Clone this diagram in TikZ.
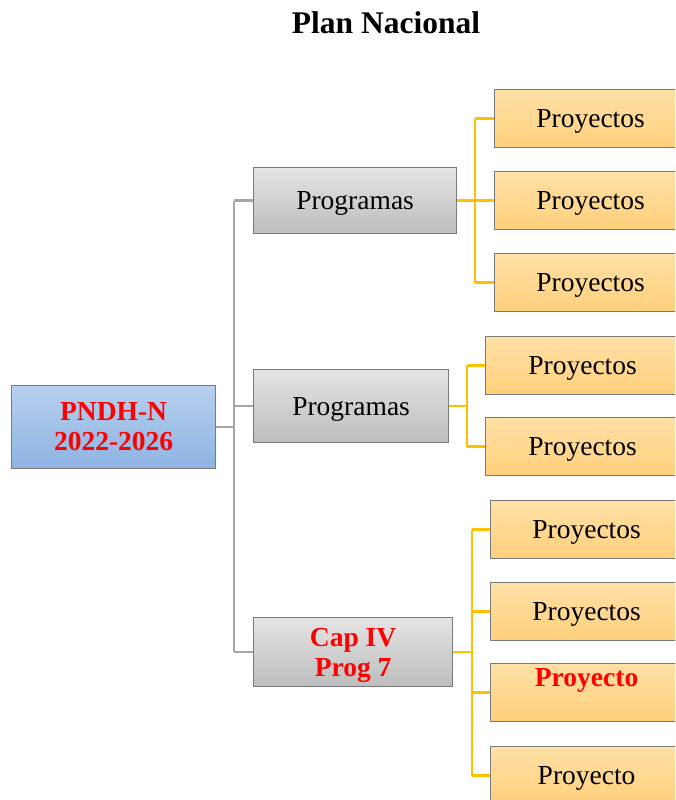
\documentclass[tikz,border=0pt]{standalone}
\usepackage{fontspec}
\setmainfont{Liberation Serif}
\definecolor{bordc}{HTML}{7A7A7A}
\definecolor{gline}{HTML}{A6A6A6}
\definecolor{yline}{HTML}{FFC000}
\definecolor{blueT}{HTML}{B7D0EE}
\definecolor{blueB}{HTML}{8EB3E2}
\definecolor{grayT}{HTML}{E4E4E4}
\definecolor{grayB}{HTML}{BDBDBD}
\definecolor{orT}{HTML}{FFE0A6}
\definecolor{orB}{HTML}{FFD07C}
\definecolor{redtxt}{HTML}{FF0000}
\tikzset{
  box/.style={draw=bordc, line width=1.2pt, anchor=north west, inner sep=0pt, align=center,
    font=\fontsize{27.5}{30}\selectfont},
  oneline/.style={text height=24pt, text depth=6pt},
  rootbox/.style={box, top color=blueT, bottom color=blueB, text=redtxt, font=\fontsize{27.5}{30}\selectfont\bfseries},
  progbox/.style={box, top color=grayT, bottom color=grayB},
  projbox/.style={box, top color=orT, bottom color=orB, minimum width=192pt, minimum height=58pt},
  gconn/.style={draw=gline, line width=2.7pt},
  yconn/.style={draw=yline, line width=2.7pt},
}
\begin{document}
\begin{tikzpicture}[x=1pt,y=-1pt]
\clip (0,0) rectangle (675,800);
\fill[white] (0,0) rectangle (675,800);
\node[font=\fontsize{31.5}{34}\selectfont\bfseries] (title) at (386,23) {Plan Nacional};

\node[rootbox, minimum width=204pt, minimum height=83pt] (root) at (11,385) {PNDH-N\\2022-2026};

\node[progbox, oneline, minimum width=203pt, minimum height=66pt] (prog1) at (253,167) {Programas};
\node[progbox, oneline, minimum width=195pt, minimum height=73pt] (prog2) at (253,369) {Programas};
\node[progbox, minimum width=199pt, minimum height=69pt, text=redtxt, text height=54.6pt, text depth=6pt, font=\fontsize{27.5}{30}\selectfont\bfseries] (cap) at (253,617) {Cap IV\\Prog 7};

\node[projbox, oneline] (p11) at (494,89) {Proyectos};
\node[projbox, oneline] (p12) at (494,171) {Proyectos};
\node[projbox, oneline] (p13) at (494,253) {Proyectos};

\node[projbox, oneline, minimum width=194pt] (p21) at (485,336) {Proyectos};
\node[projbox, oneline, minimum width=194pt] (p22) at (485,417) {Proyectos};

\node[projbox, oneline] (p31) at (490,500) {Proyectos};
\node[projbox, oneline] (p32) at (490,582) {Proyectos};
\node[projbox, text=redtxt, font=\fontsize{27.5}{30}\selectfont\bfseries] (p33) at (490,663) {Proyecto\\\mbox{}};
\node[projbox, oneline] (p34) at (490,746) {Proyecto};

% gray connectors
\coordinate (gx) at (234,0);
\draw[gconn] (root.east) -- (root.east -| gx);
\draw[gconn] (prog1.west -| gx) -- (cap.west -| gx);
\draw[gconn] (prog1.west -| gx) -- (prog1.west);
\draw[gconn] (prog2.west -| gx) -- (prog2.west);
\draw[gconn] (cap.west -| gx) -- (cap.west);

% yellow group 1
\coordinate (y1) at (475,0);
\draw[yconn] (prog1.east) -- (prog1.east -| y1);
\draw[yconn] (p11.west -| y1) -- (p13.west -| y1);
\draw[yconn] (p11.west -| y1) -- (p11.west);
\draw[yconn] (p12.west -| y1) -- (p12.west);
\draw[yconn] (p13.west -| y1) -- (p13.west);

% yellow group 2
\coordinate (y2) at (467,0);
\draw[yconn] (prog2.east) -- (prog2.east -| y2);
\draw[yconn] (p21.west -| y2) -- (p22.west -| y2);
\draw[yconn] (p21.west -| y2) -- (p21.west);
\draw[yconn] (p22.west -| y2) -- (p22.west);

% yellow group 3
\coordinate (y3) at (472,0);
\draw[yconn] (cap.east) -- (cap.east -| y3);
\draw[yconn] (p31.west -| y3) -- (p34.west -| y3);
\draw[yconn] (p31.west -| y3) -- (p31.west);
\draw[yconn] (p32.west -| y3) -- (p32.west);
\draw[yconn] (p33.west -| y3) -- (p33.west);
\draw[yconn] (p34.west -| y3) -- (p34.west);
\end{tikzpicture}
\end{document}
